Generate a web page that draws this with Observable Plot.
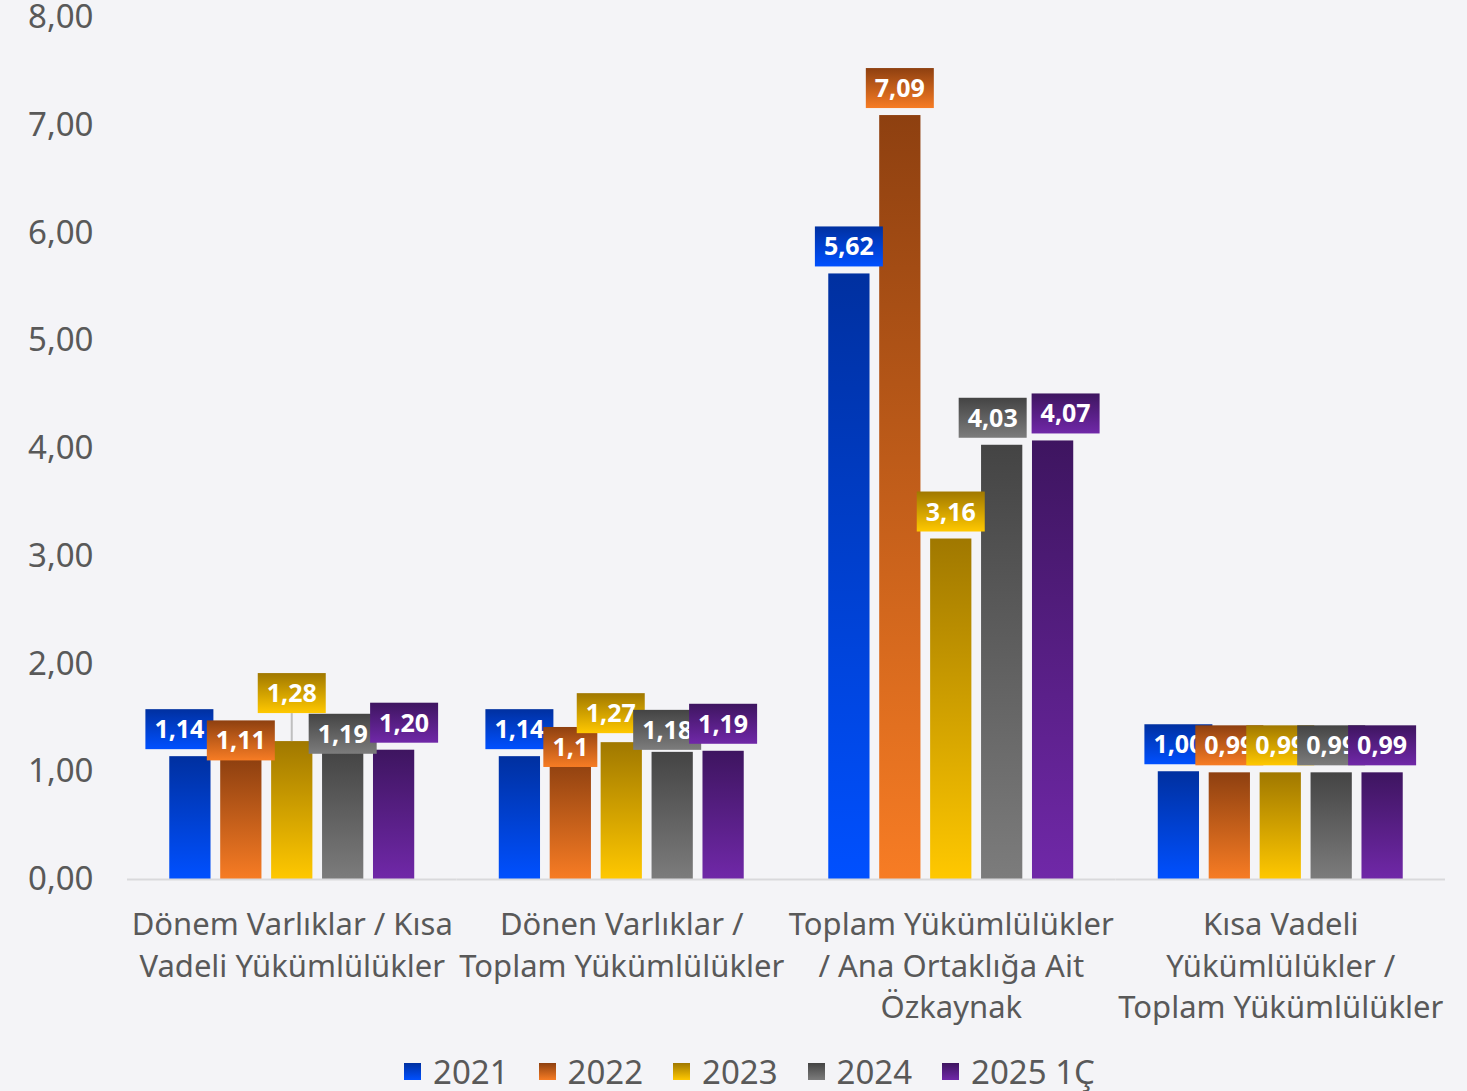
<!DOCTYPE html>
<html>
<head>
<meta charset="utf-8">
<script src="https://cdn.jsdelivr.net/npm/d3@7"></script>
<script src="https://cdn.jsdelivr.net/npm/@observablehq/plot@0.6"></script>
<style>
  html, body { margin: 0; padding: 0; background: #f4f4f7; }
  body { width: 1467px; height: 1091px; overflow: hidden; font-family: "Noto Sans", sans-serif; }
  #legend { display: flex; justify-content: center; align-items: center; height: 51px; padding-left: 32px; padding-top: 11px; box-sizing: border-box; }
  .item { display: flex; align-items: center; margin: 0 15px; color: #595959; font-size: 33px; line-height: 1; }
  .sw { width: 17px; height: 17px; margin-right: 12px; }
</style>
</head>
<body>
<div id="chart"></div>
<div id="legend"></div>
<script>
// ---- data ----
const categories = [
  "Dönem Varlıklar / Kısa Vadeli Yükümlülükler",
  "Dönen Varlıklar / Toplam Yükümlülükler",
  "Toplam Yükümlülükler / Ana Ortaklığa Ait Özkaynak",
  "Kısa Vadeli Yükümlülükler / Toplam Yükümlülükler"
];
const categoryLines = [
  ["Dönem Varlıklar / Kısa", "Vadeli Yükümlülükler"],
  ["Dönen Varlıklar /", "Toplam Yükümlülükler"],
  ["Toplam Yükümlülükler", "/ Ana Ortaklığa Ait", "Özkaynak"],
  ["Kısa Vadeli", "Yükümlülükler /", "Toplam Yükümlülükler"]
];
const years = ["2021", "2022", "2023", "2024", "2025 1Ç"];
const values2021 = [1.14, 1.14, 5.62, 1.00];
const values2022 = [1.11, 1.10, 7.09, 0.99];
const values2023 = [1.28, 1.27, 3.16, 0.99];
const values2024 = [1.19, 1.18, 4.03, 0.99];
const values2025 = [1.20, 1.19, 4.07, 0.99];
const labels2021 = ["1,14", "1,14", "5,62", "1,00"];
const labels2022 = ["1,11", "1,1", "7,09", "0,99"];
const labels2023 = ["1,28", "1,27", "3,16", "0,99"];
const labels2024 = ["1,19", "1,18", "4,03", "0,99"];
const labels2025 = ["1,20", "1,19", "4,07", "0,99"];
const yTicks = [0, 1, 2, 3, 4, 5, 6, 7, 8];

// ---- styles ----
const gradTop = ["#0030a0", "#8e4010", "#a07800", "#444444", "#3e1560"];
const gradBottom = ["#0050ff", "#f77c24", "#ffc800", "#7c7c7c", "#7028a8"];
// label nudges (px) as placed by the original chart's label layout, [category][year] -> [dx, dy]
const labelNudges = [
  [[-10.5, 0], [0, 8], [0, -21], [0, 10], [10.5, 0]],
  [[0, 0], [0, 13.5], [-10.5, -2], [-5, 5], [0, 0]],
  [[0, 0], [0, 0], [0, 0], [-9, 0], [13, 0]],
  [[0, 0], [0, 0], [0, 0], [0, 0], [0, 0]]
];

const seriesValues = [values2021, values2022, values2023, values2024, values2025];
const seriesLabels = [labels2021, labels2022, labels2023, labels2024, labels2025];
const data = [];
categories.forEach((c, i) => {
  years.forEach((yr, j) => {
    data.push({category: c, year: yr, value: seriesValues[j][i], label: seriesLabels[j][i], ci: i, yi: j});
  });
});

const gradId = yr => `url(#grad${years.indexOf(yr)})`;

const measureCtx = document.createElement("canvas").getContext("2d");
const labelFont = "700 25px 'Noto Sans'";
function measure(t) { measureCtx.font = labelFont; return measureCtx.measureText(t).width; }

const defsMark = () => {
  const defs = d3.create("svg:defs");
  years.forEach((yr, j) => {
    const g = defs.append("linearGradient").attr("id", `grad${j}`)
      .attr("x1", 0).attr("y1", 0).attr("x2", 0).attr("y2", 1);
    g.append("stop").attr("offset", "0%").attr("stop-color", gradTop[j]);
    g.append("stop").attr("offset", "100%").attr("stop-color", gradBottom[j]);
  });
  return defs.node();
};

const chart = Plot.plot({
  width: 1467,
  height: 1040,
  marginLeft: 127,
  marginRight: 22,
  marginTop: 17,
  marginBottom: 161,
  style: {background: "transparent", fontFamily: "'Noto Sans', sans-serif", overflow: "visible"},
  fx: {domain: categories, padding: 0, axis: null, round: false},
  x: {domain: years, paddingInner: 0.19, paddingOuter: 0.83, axis: null, round: false},
  y: {domain: [0, 8], axis: null},
  color: {type: "identity"},
  marks: [
    defsMark,
    Plot.axisY({ticks: yTicks, tickSize: 0, tickPadding: 34, fontSize: 33, color: "#595959", label: null,
      tickFormat: d => d.toFixed(2).replace(".", ",")}),
    Plot.axisFx({anchor: "bottom", tickSize: 0, tickPadding: 26, fontSize: 31, lineHeight: 1.34, color: "#595959", label: null,
      tickFormat: c => categoryLines[categories.indexOf(c)].join("\n")}),
    Plot.barY(data, {fx: "category", x: "year", y: "value", fill: d => gradId(d.year)}),
    Plot.ruleY([0], {stroke: "#d9d9dc", strokeWidth: 2}),
    Plot.text(data, {
      fx: "category", x: "year", y: "value", text: "label",
      render(index, scales, values, dimensions, context, next) {
        const g = d3.create("svg:g");
        const bwRaw = scales.x.bandwidth;
        const bw = typeof bwRaw === "function" ? bwRaw() : bwRaw;
        for (const i of index) {
          const d = data[i];
          const [ndx, ndy] = labelNudges[d.ci][d.yi];
          const cx0 = scales.x(d.year) + bw / 2;
          const cx = cx0 + ndx;
          const yTop = scales.y(d.value);
          const w = Math.round(measure(d.label) + 18);
          const h = 40;
          const by = yTop - 7 - h + ndy;
          if (ndy < -10) {
            g.append("line").attr("x1", cx0).attr("x2", cx0).attr("y1", by + h).attr("y2", yTop)
              .attr("stroke", "#bfbfbf").attr("stroke-width", 2);
          }
          g.append("rect").attr("x", cx - w / 2).attr("y", by).attr("width", w).attr("height", h)
            .attr("fill", gradId(d.year));
          g.append("text").attr("x", cx).attr("y", by + h / 2).attr("dy", "0.36em")
            .attr("text-anchor", "middle").attr("fill", "white")
            .attr("font-weight", 700).attr("font-size", 25).attr("font-family", "'Noto Sans', sans-serif")
            .text(d.label);
        }
        return g.node();
      }
    })
  ]
});
document.getElementById("chart").appendChild(chart);

const legend = d3.select("#legend");
years.forEach((yr, j) => {
  const it = legend.append("div").attr("class", "item");
  it.append("div").attr("class", "sw").style("background", `linear-gradient(${gradTop[j]}, ${gradBottom[j]})`);
  it.append("span").text(yr);
});
</script>
</body>
</html>
